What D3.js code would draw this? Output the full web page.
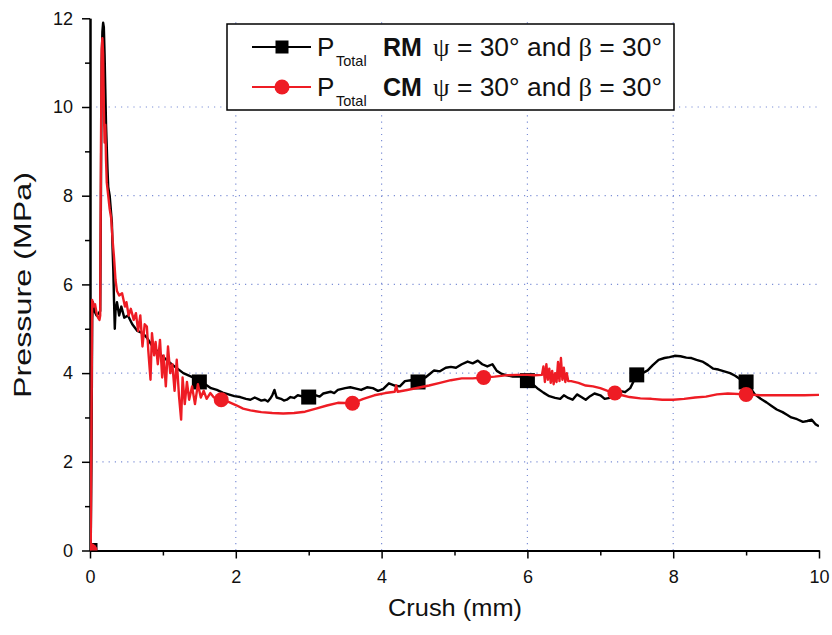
<!DOCTYPE html>
<html>
<head>
<meta charset="utf-8">
<script src="https://cdn.jsdelivr.net/npm/d3@7"></script>
<style>
  html, body { margin: 0; padding: 0; background: #fff; }
  svg { display: block; font-family: "Liberation Sans", Arial, sans-serif; }
</style>
</head>
<body>
<svg id="chart" width="832" height="635"></svg>
<script>
// RM series: crush (mm) and total pressure (MPa)
const rmCrush = [0,0.01,0.02,0.03,0.04,0.06,0.09,0.12,0.14,0.15,0.16,0.17,0.18,0.19,0.2,0.21,0.22,0.24,0.25,0.27,0.28,0.3,0.31,0.32,0.33,0.34,0.35,0.37,0.4,0.43,0.47,0.52,0.58,0.65,0.72,0.78,0.85,0.92,0.98,1.05,1.12,1.2,1.28,1.35,1.42,1.5,1.58,1.66,1.74,1.82,1.9,1.98,2.06,2.14,2.2,2.26,2.3,2.35,2.4,2.44,2.47,2.5,2.53,2.56,2.62,2.66,2.7,2.75,2.8,2.85,2.9,2.95,3.0,3.1,3.15,3.2,3.3,3.35,3.4,3.5,3.57,3.65,3.72,3.8,3.88,3.95,4.02,4.1,4.18,4.25,4.32,4.4,4.45,4.5,4.55,4.6,4.66,4.72,4.8,4.88,4.95,5.02,5.1,5.18,5.25,5.32,5.38,5.45,5.52,5.58,5.65,5.72,5.8,5.9,6.0,6.08,6.15,6.22,6.3,6.38,6.45,6.5,6.56,6.62,6.68,6.74,6.8,6.86,6.92,7.0,7.06,7.13,7.2,7.27,7.34,7.41,7.5,7.58,7.65,7.72,7.8,7.88,7.95,8.02,8.1,8.18,8.25,8.32,8.4,8.48,8.55,8.62,8.7,8.78,8.85,8.92,9.0,9.06,9.12,9.2,9.28,9.35,9.42,9.5,9.56,9.62,9.7,9.78,9.84,9.9,9.95,10.0];
const rmPressure = [0,0.1,2.0,5.2,5.6,5.4,5.3,5.35,5.4,8.0,11.0,11.7,11.9,11.8,11.2,10.4,9.6,8.6,8.2,8.0,7.8,7.4,6.8,6.3,5.6,5.0,5.4,5.6,5.3,5.5,5.25,5.3,5.1,4.95,4.9,4.8,4.62,4.5,4.4,4.3,4.2,4.1,4.0,3.95,3.9,3.8,3.75,3.66,3.62,3.56,3.52,3.48,3.46,3.42,3.4,3.45,3.42,3.38,3.4,3.36,3.42,3.5,3.62,3.45,3.42,3.38,3.4,3.46,3.44,3.5,3.48,3.44,3.46,3.5,3.47,3.54,3.58,3.55,3.62,3.66,3.68,3.65,3.62,3.68,3.66,3.6,3.64,3.77,3.72,3.7,3.82,3.84,3.78,3.8,3.86,3.9,3.98,4.06,4.04,4.12,4.14,4.12,4.2,4.26,4.22,4.28,4.2,4.15,4.2,4.05,3.98,3.95,3.92,3.93,3.83,3.74,3.64,3.56,3.48,3.44,3.42,3.5,3.44,3.4,3.52,3.46,3.4,3.48,3.54,3.5,3.42,3.44,3.52,3.6,3.57,3.66,3.96,4.0,4.06,4.18,4.3,4.34,4.36,4.39,4.38,4.35,4.34,4.3,4.26,4.18,4.1,4.08,4.04,4.0,3.94,3.86,3.8,3.66,3.52,3.42,3.34,3.26,3.18,3.12,3.06,3.0,2.96,2.9,2.92,2.95,2.85,2.8];

// CM series: crush (mm) and total pressure (MPa)
const cmCrush = [0,0.01,0.02,0.03,0.05,0.07,0.09,0.11,0.13,0.14,0.15,0.16,0.17,0.18,0.19,0.2,0.21,0.22,0.23,0.25,0.27,0.29,0.31,0.33,0.35,0.37,0.4,0.44,0.48,0.5,0.53,0.56,0.6,0.63,0.66,0.69,0.72,0.75,0.78,0.8,0.83,0.85,0.88,0.9,0.93,0.96,0.99,1.01,1.04,1.07,1.1,1.13,1.16,1.19,1.22,1.25,1.27,1.3,1.33,1.36,1.4,1.44,1.48,1.52,1.56,1.6,1.65,1.7,1.75,1.8,1.9,2.0,2.1,2.2,2.35,2.5,2.65,2.8,2.95,3.1,3.25,3.4,3.6,3.75,3.9,4.05,4.18,4.2,4.22,4.35,4.5,4.65,4.8,4.95,5.1,5.25,5.4,5.55,5.7,5.85,6.0,6.1,6.2,6.22,6.24,6.26,6.28,6.3,6.32,6.34,6.36,6.38,6.4,6.42,6.44,6.46,6.48,6.5,6.52,6.54,6.56,6.6,6.7,6.8,6.9,7.0,7.1,7.2,7.3,7.4,7.55,7.7,7.85,8.0,8.15,8.3,8.45,8.6,8.75,9.0,9.2,9.4,9.6,9.8,10.0];
const cmPressure = [0,0.05,3.0,5.65,5.5,5.55,5.35,5.25,5.2,5.3,9.0,11.3,11.55,11.2,10.0,9.2,9.6,8.8,8.3,8.0,7.7,7.5,7.0,6.6,6.1,5.85,5.75,5.8,5.5,5.6,5.3,5.45,5.2,5.35,4.95,5.3,4.6,5.1,5.05,4.5,3.85,4.9,4.4,4.7,4.2,4.75,3.9,4.4,3.7,4.6,4.0,4.2,3.6,4.3,3.5,2.95,3.9,3.3,3.8,3.4,3.7,3.3,3.75,3.45,3.6,3.42,3.55,3.45,3.42,3.4,3.35,3.28,3.2,3.16,3.12,3.1,3.09,3.1,3.13,3.2,3.27,3.33,3.32,3.42,3.5,3.55,3.58,3.72,3.58,3.62,3.67,3.72,3.78,3.84,3.88,3.88,3.9,3.92,3.95,3.96,3.96,3.95,3.96,4.15,3.8,4.2,3.85,4.1,3.78,4.05,3.75,4.0,3.8,4.25,3.82,4.34,3.85,4.12,3.8,4.0,3.82,3.82,3.78,3.72,3.7,3.66,3.6,3.55,3.5,3.46,3.43,3.42,3.4,3.4,3.42,3.45,3.47,3.52,3.54,3.52,3.5,3.5,3.5,3.5,3.51];

// Symbol positions along each series
const rmMarkerCrush = [0, 1.5, 3, 4.5, 6, 7.5, 9];
const rmMarkerPressure = [0, 3.8, 3.46, 3.8, 3.83, 3.96, 3.8];
const cmMarkerCrush = [0, 1.8, 3.6, 5.4, 7.2, 9];
const cmMarkerPressure = [0, 3.4, 3.32, 3.9, 3.55, 3.52];

// Axis ticks
const xMajorTicks = [0, 2, 4, 6, 8, 10];
const xMinorTicks = [1, 3, 5, 7, 9];
const yMajorTicks = [0, 2, 4, 6, 8, 10, 12];
const yMinorTicks = [1, 3, 5, 7, 9, 11];
const xGrid = [2, 4, 6, 8];
const yGrid = [2, 4, 6, 8, 10];

const RED = "#ee1c24";
const GRID = "#7d8fd6";

const svg = d3.select("#chart");
const x = d3.scaleLinear().domain([0, 10]).range([90, 819]);
const y = d3.scaleLinear().domain([0, 12]).range([550.5, 18.3]);

svg.append("defs").append("clipPath").attr("id", "plotClip")
  .append("rect")
  .attr("x", x(0)).attr("y", y(12) - 2)
  .attr("width", x(10) - x(0)).attr("height", y(0) - y(12) + 2);

// dotted grid
const grid = svg.append("g").attr("stroke", GRID).attr("stroke-width", 1.2)
  .attr("stroke-dasharray", "1.2,5");
grid.selectAll(".gx").data(xGrid).join("line")
  .attr("x1", d => x(d)).attr("x2", d => x(d))
  .attr("y1", y(0)).attr("y2", y(12));
grid.selectAll(".gy").data(yGrid).join("line")
  .attr("x1", x(0)).attr("x2", x(10))
  .attr("y1", d => y(d)).attr("y2", d => y(d));

// axes
function styleAxis(g) {
  g.selectAll("path.domain").attr("stroke", "#000").attr("stroke-width", 2);
  g.selectAll(".tick line").attr("stroke", "#000").attr("stroke-width", 1.5);
  g.selectAll(".tick text").attr("fill", "#111")
    .style("font-family", "'Liberation Sans', Arial, sans-serif")
    .style("font-size", "18px");
}
svg.append("g").attr("transform", `translate(0,${y(0)})`)
  .call(d3.axisBottom(x).tickValues(xMajorTicks).tickSize(8).tickSizeOuter(0)
    .tickPadding(12).tickFormat(d3.format("d")))
  .call(styleAxis);
svg.append("g").attr("transform", `translate(0,${y(0)})`)
  .call(d3.axisBottom(x).tickValues(xMinorTicks).tickSize(5).tickSizeOuter(0).tickFormat(""))
  .call(styleAxis);
svg.append("g").attr("transform", `translate(${x(0)},0)`)
  .call(d3.axisLeft(y).tickValues(yMajorTicks).tickSize(8).tickSizeOuter(0)
    .tickPadding(9).tickFormat(d3.format("d")))
  .call(styleAxis);
svg.append("g").attr("transform", `translate(${x(0)},0)`)
  .call(d3.axisLeft(y).tickValues(yMinorTicks).tickSize(5).tickSizeOuter(0).tickFormat(""))
  .call(styleAxis);

// axis titles
svg.append("text")
  .attr("x", 455).attr("y", 616)
  .attr("text-anchor", "middle")
  .style("font-size", "24px").attr("fill", "#111")
  .attr("textLength", 134).attr("lengthAdjust", "spacingAndGlyphs")
  .text("Crush (mm)");
svg.append("text")
  .attr("transform", `translate(31,285) rotate(-90)`)
  .attr("text-anchor", "middle")
  .style("font-size", "24px").attr("fill", "#111")
  .attr("textLength", 226).attr("lengthAdjust", "spacingAndGlyphs")
  .text("Pressure (MPa)");

// series
const plot = svg.append("g").attr("clip-path", "url(#plotClip)");
const line = d3.line().x(d => x(d[0])).y(d => y(d[1]));
const rmData = d3.zip(rmCrush, rmPressure);
const cmData = d3.zip(cmCrush, cmPressure);
const sq = 15, r = 7.5;

plot.append("path").datum(rmData).attr("d", line)
  .attr("fill", "none").attr("stroke", "#000").attr("stroke-width", 2.4)
  .attr("stroke-linejoin", "round");
plot.selectAll(".rmMark").data(d3.zip(rmMarkerCrush, rmMarkerPressure)).join("rect")
  .attr("x", d => x(d[0]) - sq / 2).attr("y", d => y(d[1]) - sq / 2)
  .attr("width", sq).attr("height", sq).attr("fill", "#000");

plot.append("path").datum(cmData).attr("d", line)
  .attr("fill", "none").attr("stroke", RED).attr("stroke-width", 2.4)
  .attr("stroke-linejoin", "round");
plot.selectAll(".cmMark").data(d3.zip(cmMarkerCrush, cmMarkerPressure)).join("circle")
  .attr("cx", d => x(d[0])).attr("cy", d => y(d[1]))
  .attr("r", r).attr("fill", RED);

// legend
const lg = svg.append("g");
lg.append("rect").attr("x", 227).attr("y", 24).attr("width", 447).attr("height", 86)
  .attr("fill", "#fff").attr("stroke", "#000").attr("stroke-width", 1.5);

const legendRows = [
  { model: "RM", color: "#000", shape: "square", cy: 47 },
  { model: "CM", color: RED, shape: "circle", cy: 87 }
];
legendRows.forEach(row => {
  lg.append("line").attr("x1", 252).attr("x2", 311)
    .attr("y1", row.cy).attr("y2", row.cy)
    .attr("stroke", row.color).attr("stroke-width", 2.2);
  if (row.shape === "square") {
    lg.append("rect").attr("x", 282 - 6.5).attr("y", row.cy - 6.5)
      .attr("width", 13).attr("height", 13).attr("fill", row.color);
  } else {
    lg.append("circle").attr("cx", 282).attr("cy", row.cy).attr("r", 7.5)
      .attr("fill", row.color);
  }
  const base = row.cy + 9;
  lg.append("text").attr("x", 317).attr("y", base)
    .style("font-size", "26px").attr("fill", "#111").text("P");
  lg.append("text").attr("x", 336).attr("y", base + 10)
    .style("font-size", "14.5px").attr("fill", "#111").text("Total");
  lg.append("text").attr("x", 383).attr("y", base)
    .style("font-size", "25px").style("font-weight", "bold").attr("fill", "#111")
    .text(row.model);
  const t = lg.append("text").attr("x", 433).attr("y", base)
    .style("font-size", "26px").attr("fill", "#111")
    .attr("textLength", 229).attr("lengthAdjust", "spacingAndGlyphs");
  t.append("tspan").style("font-family", "'Liberation Serif', serif").text("ψ");
  t.append("tspan").text(" = 30° and ");
  t.append("tspan").style("font-family", "'Liberation Serif', serif").text("β");
  t.append("tspan").text(" = 30°");
});
</script>
</body>
</html>
